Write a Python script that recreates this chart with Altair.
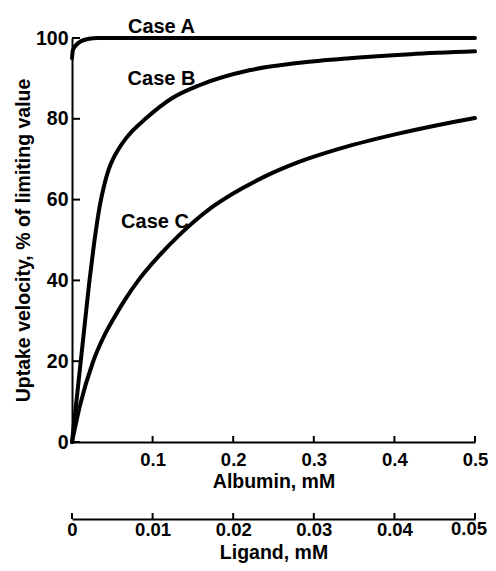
import altair as alt
import pandas as pd

# ---- data ----
case_a_x = [0, 0.001, 0.005, 0.011, 0.021, 0.032, 0.1, 0.5]
case_a_y = [95.0, 96.9, 98.2, 99.2, 99.8, 100, 100, 100]

case_b_x = [0, 0.006, 0.0114, 0.0168, 0.0217, 0.027, 0.0345, 0.040, 0.045, 0.052,
            0.058, 0.066, 0.075, 0.09, 0.125, 0.158, 0.22, 0.28, 0.344, 0.42, 0.5]
case_b_y = [0, 11, 21, 31, 40, 48.5, 58.5, 63.6, 67.2, 70.5,
            72.6, 74.9, 77, 79.8, 85.2, 88.3, 92.0, 93.8, 95.0, 96.0, 96.7]

case_c_x = [0, 0.0105, 0.0255, 0.040, 0.051, 0.065, 0.083, 0.109, 0.133, 0.154, 0.175,
            0.237, 0.28, 0.332, 0.402, 0.45, 0.5]
case_c_y = [0, 9.5, 19.5, 26.3, 30.3, 35.0, 40.2, 46.3, 51.2, 55.0, 58.3,
            65.5, 69.2, 72.6, 76.2, 78.3, 80.2]

case_names = ["Case A", "Case B", "Case C"]
label_x = [0.111, 0.111, 0.103]
label_y = [102.8, 89.9, 54.5]

albumin_ticks = [0.1, 0.2, 0.3, 0.4, 0.5]
ligand_ticks = [0, 0.01, 0.02, 0.03, 0.04, 0.05]
ligand_labels = ["0", "0.01", "0.02", "0.03", "0.04", "0.05"]
y_ticks = [0, 20, 40, 60, 80, 100]

# ---- tables ----
rows = []
for name, xs, ys in [("A", case_a_x, case_a_y), ("B", case_b_x, case_b_y), ("C", case_c_x, case_c_y)]:
    for xv, yv in zip(xs, ys):
        rows.append({"case": name, "x": xv, "y": yv})
curves = pd.DataFrame(rows)
ann = pd.DataFrame({"label": case_names, "x": label_x, "y": label_y})
lig_df = pd.DataFrame({"lig": ligand_ticks, "t": ligand_labels})

W, H = 403, 404
FONT = "Liberation Sans"
LIG_OFF = 77
LIG_PAD = 1

x_scale = alt.Scale(domain=[0, 0.5], nice=False, zero=False)
y_scale = alt.Scale(domain=[0, 100], nice=False)

x_axis = alt.Axis(title="Albumin, mM", values=albumin_ticks, format=".1f",
                  labelFontSize=18.5, labelPadding=8, titlePadding=4)
y_axis = alt.Axis(title="Uptake velocity, % of limiting value", values=y_ticks,
                  format="d", labelFontSize=19.5, labelPadding=4, titlePadding=2)

X = alt.X("x:Q", scale=x_scale, axis=x_axis)
Y = alt.Y("y:Q", scale=y_scale, axis=y_axis)

lines = alt.Chart(curves).mark_line(
    color="black", strokeWidth=4, strokeCap="round", strokeJoin="round",
    interpolate="monotone"
).encode(x=X, y=Y, detail="case:N")

labels = alt.Chart(ann).mark_text(
    font=FONT, fontSize=20, fontWeight="bold", color="black",
    align="center", baseline="middle"
).encode(x=X, y=Y, text="label:N")

x_tick_rules = alt.Chart(pd.DataFrame({"x": albumin_ticks})).mark_rule(
    color="black", strokeWidth=2
).encode(x=X, y=alt.value(H), y2=alt.value(H - 6))

y_tick_rules = alt.Chart(pd.DataFrame({"y": y_ticks})).mark_rule(
    color="black", strokeWidth=2
).encode(y=Y, x=alt.value(0), x2=alt.value(8))

main = alt.layer(lines, labels, x_tick_rules, y_tick_rules)

# ---- second (ligand) axis ----
lig_axis = alt.Axis(
    orient="bottom", offset=LIG_OFF, values=ligand_ticks,
    labelExpr="datum.value > 0.045 ? '' : (datum.value == 0 ? '0' : format(datum.value, '.2f'))",
    labelFontSize=18.5, title="Ligand, mM", labelPadding=LIG_PAD, titlePadding=5)
LX = alt.X("lig:Q", scale=alt.Scale(domain=[0, 0.05], nice=False, zero=False), axis=lig_axis)

lig_rules = alt.Chart(lig_df).mark_rule(color="black", strokeWidth=2).encode(
    x=LX, y=alt.value(H + LIG_OFF), y2=alt.value(H + LIG_OFF - 6)
)
# last ligand label drawn as text so it can be nudged inside the page edge
lig_last = alt.Chart(lig_df.tail(1)).mark_text(
    font=FONT, fontSize=18.5, fontWeight="bold", color="black",
    align="center", baseline="top", dx=-6
).encode(x=LX, y=alt.value(H + LIG_OFF + LIG_PAD), text="t:N")

lig = alt.layer(lig_rules, lig_last)

chart = alt.layer(main, lig).resolve_scale(x="independent").properties(
    width=W, height=H,
    autosize=alt.AutoSizeParams(type="none"),
    padding={"left": 64, "top": 30, "right": 13, "bottom": 121},
).configure_view(stroke=None).configure_axis(
    grid=False, ticks=False, tickSize=0,
    domainColor="black", domainWidth=2,
    labelFont=FONT, labelFontWeight="bold", labelColor="black",
    titleFont=FONT, titleFontSize=19.5, titleFontWeight="bold", titleColor="black",
    labelFlush=False, labelOverlap=False,
)

chart.save("out.html", embed_options={"renderer": "svg", "actions": False})
